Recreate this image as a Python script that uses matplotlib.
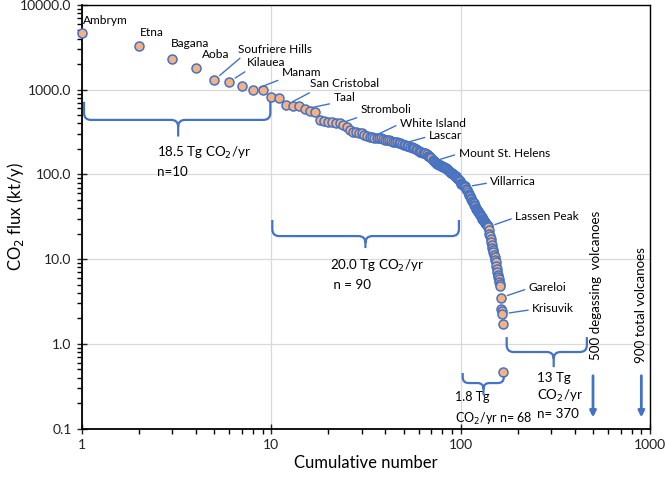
import numpy as np
import matplotlib
matplotlib.use("Agg")
import matplotlib.pyplot as plt
from matplotlib.path import Path
from matplotlib.patches import PathPatch
from matplotlib.ticker import FixedLocator, FuncFormatter, LogLocator, NullFormatter
import matplotlib.transforms as mtransforms

plt.rcParams['font.family'] = ['Lato', 'DejaVu Sans']

# ---------------- data ----------------
flux = [4700, 3300, 2300, 1800, 1300, 1240, 1100, 990, 990, 820,
        800, 660, 645, 640, 590, 565, 540, 440, 428, 418,
        410, 405, 399, 380, 362, 334, 320, 315, 310, 305,
        295, 285, 278, 275, 270, 268, 267, 266, 262, 258,
        256, 255, 250, 244, 241, 239, 237, 235, 230, 225,
        222, 218, 214, 211, 208, 206, 205, 202, 195, 190,
        185, 183, 181, 180, 179, 172, 166, 163, 160, 155,
        148, 143, 140, 137, 134, 132, 130, 129, 127, 125,
        123, 121, 119, 118, 117, 114, 111, 108, 105, 103,
        101, 99, 97, 95, 93, 91, 89, 86, 83, 80,
        78, 76, 75, 73, 72, 71, 68, 65, 62, 59,
        57, 55, 53, 51, 49, 47, 46, 44, 42, 40,
        39, 38, 37, 36, 35, 34, 33, 32, 31, 30,
        29.5, 29, 28, 27.5, 26.7, 26, 25.5, 25, 24.5, 24,
        22, 20, 18.5, 17.5, 16, 14.5, 13.5, 12.8, 12, 11.2,
        10.5, 9.8, 9.2, 8.3, 7.6, 7.0, 6.5, 6.1, 5.8, 5.4,
        5.1, 4.8, 3.5, 2.55, 2.45, 2.25, 1.71, 0.46]
rank = np.arange(1, len(flux) + 1)

names = ["Ambrym", "Etna", "Bagana", "Aoba", "Soufriere Hills", "Kilauea", "Manam",
         "San Cristobal", "Taal", "Stromboli", "White Island", "Lascar",
         "Mount St. Helens", "Villarrica", "Lassen Peak", "Gareloi", "Krisuvik"]
name_rank = [1, 2, 3, 4, 5, 6, 8, 12, 15, 23, 34, 49, 72, 106, 140, 163, 166]

x_ticks = [1, 10, 100, 1000]
y_ticks = [0.1, 1, 10, 100, 1000, 10000]

# ---------------- style ----------------
BLUE = '#4472C4'
FILL = '#F4B183'

W, H = 666, 484
fig = plt.figure(figsize=(W / 100, H / 100), dpi=100)
ax = fig.add_axes([82 / W, (H - 428.5) / H, (650 - 82) / W, (428.5 - 5) / H])
ax.set_xscale('log')
ax.set_yscale('log')
ax.set_xlim(1, 1000)
ax.set_ylim(0.1, 10000)

ax.xaxis.set_major_locator(FixedLocator(x_ticks))
ax.yaxis.set_major_locator(FixedLocator(y_ticks))
ax.xaxis.set_major_formatter(FuncFormatter(lambda v, p: f"{v:g}"))
ax.yaxis.set_major_formatter(FuncFormatter(lambda v, p: f"{v:.1f}"))
ax.xaxis.set_minor_locator(LogLocator(base=10, subs=np.arange(2, 10)))
ax.yaxis.set_minor_locator(LogLocator(base=10, subs=np.arange(2, 10)))
ax.xaxis.set_minor_formatter(NullFormatter())
ax.yaxis.set_minor_formatter(NullFormatter())
ax.tick_params(which='major', direction='inout', length=7, width=1, labelsize=10, colors='#222222')
ax.tick_params(which='minor', direction='out', length=3.5, width=1)
ax.tick_params(axis='x', pad=4)
ax.tick_params(axis='y', pad=4)
for s in ax.spines.values():
    s.set_color('black')
    s.set_linewidth(1.0)
ax.spines['left'].set_linewidth(1.3)
ax.spines['bottom'].set_linewidth(1.3)
ax.grid(True, which='major', color='#d9d9d9', lw=0.9)
ax.set_axisbelow(True)

ax.set_xlabel('Cumulative number', fontsize=12)
ax.set_ylabel('CO$_2$ flux (kt/y)', fontsize=12)
ax.xaxis.set_label_coords(0.5, -0.062)
ax.yaxis.set_label_coords(-0.099, 0.5)

ax.scatter(rank, flux, s=42, c=FILL, edgecolors=BLUE, linewidths=1.1, zorder=3, clip_on=False)

# ---------------- labels ----------------
offsets = [(1, 12), (1, 13), (-1, 16), (6, 14), (24, 31), (18, 19), (29, 18),
           (24, 21), (29, 12), (21, 14), (28, 14), (27, 8), (25, 8), (25, 5),
           (27, 10), (28, 10), (30, 5)]
for nm, r, off in zip(names, name_rank, offsets):
    v = flux[r - 1]
    if r <= 4:
        ax.annotate(nm, xy=(r, v), xytext=off, textcoords='offset pixels',
                    ha='left', va='center', fontsize=8.6, zorder=5)
    else:
        rel = (0.08, 0.0) if r <= 23 else (0.0, 0.45)
        ax.annotate(nm, xy=(r, v), xytext=off, textcoords='offset pixels',
                    ha='left', va='center', fontsize=8.6, zorder=5,
                    arrowprops=dict(arrowstyle='-', color=BLUE, lw=1.0,
                                    relpos=rel, shrinkA=1, shrinkB=5))

# ---------------- braces ----------------
def brace(x0, x1, xm, y_l, y_r, y_mid, y_tip, r=7):
    T = ax.transData
    X0, YL = T.transform((x0, y_l))
    X1, YR = T.transform((x1, y_r))
    XM, YM = T.transform((xm, y_mid))
    _, YT = T.transform((xm, y_tip))
    rl = min(r, YL - YM)
    rr = min(r, YR - YM)
    verts = [(X0, YL), (X0, YM + rl), (X0, YM), (X0 + rl, YM), (XM - r, YM), (XM, YM), (XM, YM - r), (XM, YT),
             (X1, YR), (X1, YM + rr), (X1, YM), (X1 - rr, YM), (XM + r, YM), (XM, YM), (XM, YM - r)]
    codes = [Path.MOVETO, Path.LINETO, Path.CURVE3, Path.CURVE3, Path.LINETO, Path.CURVE3, Path.CURVE3, Path.LINETO,
             Path.MOVETO, Path.LINETO, Path.CURVE3, Path.CURVE3, Path.LINETO, Path.CURVE3, Path.CURVE3]
    p = PathPatch(Path(verts, codes), fill=False, edgecolor=BLUE, lw=1.6,
                  transform=mtransforms.IdentityTransform(), zorder=4, clip_on=False)
    fig.add_artist(p)

brace(1.025, 9.88, 3.22, 720, 720, 440, 280)
brace(10.12, 97.9, 31.4, 29, 29, 18.7, 13.5)
brace(102.5, 169, 132, 0.452, 0.417, 0.344, 0.249, r=6)
brace(175, 464, 310, 1.20, 1.20, 0.80, 0.53)

fs = 9.6
ax.text(2.49, 222, '18.5 Tg CO$_2$/yr\nn=10', ha='left', va='top', fontsize=fs, linespacing=1.5)
ax.text(20.5, 10.3, '20.0 Tg CO$_2$/yr\n n = 90', ha='left', va='top', fontsize=fs, linespacing=1.5)
ax.text(93, 0.275, '1.8 Tg\nCO$_2$/yr n= 68', ha='left', va='top', fontsize=9.0, linespacing=1.6)
ax.text(252, 0.47, '13 Tg\nCO$_2$/yr\nn= 370', ha='left', va='top', fontsize=fs, linespacing=1.4)

ax.text(518, 0.64, '500 degassing  volcanoes', rotation=90, ha='center', va='bottom', fontsize=9.6)
ax.text(896, 0.60, '900 total volcanoes', rotation=90, ha='center', va='bottom', fontsize=9.6)

for xv in (500, 900):
    ax.annotate('', xy=(xv, 0.135), xytext=(xv, 0.42),
                arrowprops=dict(arrowstyle='-|>', color=BLUE, lw=2.0, mutation_scale=9, shrinkA=0, shrinkB=0))

fig.savefig('out.png', dpi=100)
